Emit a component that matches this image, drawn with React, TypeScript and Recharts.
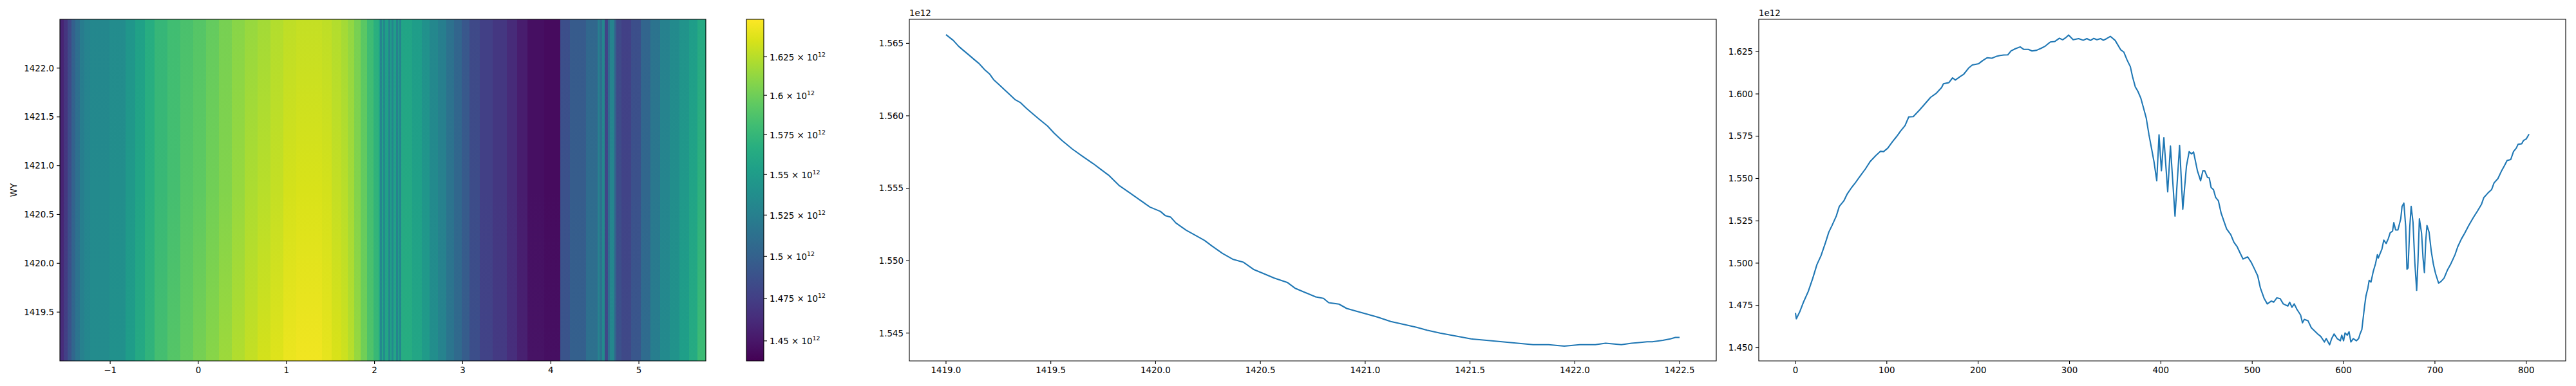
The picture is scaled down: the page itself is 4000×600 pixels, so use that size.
import { ComposedChart, Line, LineChart, ReferenceArea, XAxis, YAxis } from 'recharts';

const FONT = 'DejaVu Sans';
const FS = 13.4;
const BLUE = '#1f77b4';

// heatmap: column edges along x (radians) and values (x1e12) at top / middle / bottom of the WY range
const HEAT_EDGES = [
  -1.5708, -1.5296, -1.4857, -1.4418, -1.398, -1.3468, -1.2956, -1.2298, -1.0105, -0.8277,
  -0.718, -0.6083, -0.4986, -0.3524, -0.2061, -0.06, 0.0863, 0.2325, 0.3787, 0.525,
  0.6712, 0.8175, 0.9637, 1.1099, 1.2562, 1.4024, 1.5121, 1.6217, 1.6949, 1.768,
  1.8411, 1.9142, 1.9873, 2.0458, 2.0604, 2.0823, 2.0969, 2.1188, 2.1554, 2.1773,
  2.192, 2.2139, 2.2432, 2.2651, 2.2798, 2.3017, 2.426, 2.5357, 2.6234, 2.7185,
  2.8135, 2.9012, 2.989, 3.0767, 3.1937, 3.3399, 3.5008, 3.6178, 3.7348, 3.9249,
  4.1077, 4.2174, 4.4002, 4.5318, 4.5537, 4.5829, 4.6122, 4.6487, 4.6707, 4.7219,
  4.7438, 4.8023, 4.9119, 5.0216, 5.1313, 5.2409, 5.3506, 5.4603, 5.5699, 5.665,
  5.7596,
];
const HEAT_TOP = [
  1.458, 1.468, 1.482, 1.499, 1.511, 1.522, 1.528, 1.532, 1.536, 1.545,
  1.555, 1.566, 1.575, 1.581, 1.585, 1.59, 1.596, 1.603, 1.609, 1.614,
  1.618, 1.623, 1.627, 1.629, 1.629, 1.627, 1.623, 1.618, 1.612, 1.603,
  1.592, 1.579, 1.568, 1.555, 1.53, 1.555, 1.532, 1.553, 1.528, 1.551,
  1.53, 1.553, 1.526, 1.549, 1.528, 1.557, 1.551, 1.54, 1.532, 1.524,
  1.513, 1.503, 1.492, 1.482, 1.476, 1.47, 1.462, 1.454, 1.446, 1.444,
  1.486, 1.495, 1.505, 1.524, 1.511, 1.53, 1.478, 1.511, 1.528, 1.499,
  1.482, 1.476, 1.486, 1.503, 1.515, 1.526, 1.534, 1.542, 1.551, 1.562,
];
const HEAT_MID = [
  1.458, 1.47, 1.486, 1.501, 1.513, 1.524, 1.53, 1.534, 1.538, 1.547,
  1.557, 1.568, 1.577, 1.583, 1.59, 1.594, 1.601, 1.607, 1.614, 1.621,
  1.625, 1.629, 1.634, 1.636, 1.636, 1.634, 1.629, 1.625, 1.618, 1.607,
  1.596, 1.583, 1.572, 1.557, 1.532, 1.557, 1.534, 1.555, 1.53, 1.553,
  1.532, 1.555, 1.528, 1.551, 1.53, 1.562, 1.555, 1.545, 1.534, 1.526,
  1.515, 1.505, 1.495, 1.484, 1.476, 1.47, 1.462, 1.454, 1.446, 1.444,
  1.488, 1.497, 1.509, 1.526, 1.513, 1.532, 1.48, 1.513, 1.53, 1.501,
  1.484, 1.478, 1.488, 1.505, 1.519, 1.53, 1.538, 1.547, 1.557, 1.57,
];
const HEAT_BOT = [
  1.464, 1.476, 1.49, 1.505, 1.517, 1.526, 1.532, 1.536, 1.54, 1.551,
  1.562, 1.572, 1.583, 1.59, 1.596, 1.603, 1.609, 1.616, 1.623, 1.629,
  1.634, 1.638, 1.643, 1.645, 1.645, 1.641, 1.636, 1.632, 1.625, 1.614,
  1.601, 1.588, 1.577, 1.562, 1.534, 1.559, 1.536, 1.559, 1.532, 1.557,
  1.534, 1.559, 1.53, 1.555, 1.532, 1.566, 1.559, 1.549, 1.538, 1.528,
  1.517, 1.507, 1.497, 1.486, 1.478, 1.472, 1.464, 1.456, 1.448, 1.446,
  1.49, 1.499, 1.513, 1.528, 1.515, 1.534, 1.482, 1.515, 1.532, 1.503,
  1.488, 1.482, 1.492, 1.509, 1.524, 1.534, 1.542, 1.553, 1.564, 1.579,
];
const HEAT_X_TICKS = [-1, 0, 1, 2, 3, 4, 5];
const HEAT_Y_TICKS = [1419.5, 1420.0, 1420.5, 1421.0, 1421.5, 1422.0];

// colorbar (log norm)
const CB_MIN = 1.4384;
const CB_MAX = 1.6495;
const CB_TICKS = [1.45, 1.475, 1.5, 1.525, 1.55, 1.575, 1.6, 1.625];

// middle panel
const P2_X = [
  1419.0, 1419.035, 1419.06, 1419.084, 1419.109, 1419.133, 1419.158, 1419.183, 1419.207, 1419.227,
  1419.257, 1419.294, 1419.331, 1419.356, 1419.385, 1419.417, 1419.45, 1419.484, 1419.516, 1419.553,
  1419.603, 1419.652, 1419.702, 1419.739, 1419.776, 1419.825, 1419.875, 1419.924, 1419.973, 1420.023,
  1420.047, 1420.072, 1420.097, 1420.146, 1420.196, 1420.233, 1420.27, 1420.319, 1420.368, 1420.418,
  1420.467, 1420.517, 1420.566, 1420.628, 1420.665, 1420.714, 1420.764, 1420.801, 1420.826, 1420.875,
  1420.912, 1420.961, 1421.011, 1421.06, 1421.122, 1421.184, 1421.245, 1421.295, 1421.357, 1421.431,
  1421.505, 1421.579, 1421.653, 1421.727, 1421.801, 1421.875, 1421.95, 1422.024, 1422.098, 1422.147,
  1422.222, 1422.271, 1422.345, 1422.37, 1422.42, 1422.456, 1422.48, 1422.5,
];
const P2_Y = [
  1.5656, 1.5652, 1.5648, 1.5645, 1.5642, 1.5639, 1.5636, 1.5632, 1.5629, 1.5625,
  1.5621, 1.5616, 1.5611, 1.5609, 1.5605, 1.5601, 1.5597, 1.5593, 1.5588, 1.5583,
  1.5577, 1.5572, 1.5567, 1.5563, 1.5559, 1.5552, 1.5547, 1.5542, 1.5537, 1.5534,
  1.5531, 1.553, 1.5526, 1.5521, 1.5517, 1.5514, 1.551, 1.5505, 1.5501, 1.5499,
  1.5494, 1.5491, 1.5488, 1.5485, 1.5481, 1.5478, 1.5475, 1.5474, 1.5471, 1.547,
  1.5467, 1.5465, 1.5463, 1.5461, 1.5458, 1.5456, 1.5454, 1.5452, 1.545, 1.5448,
  1.5446, 1.5445, 1.5444, 1.5443, 1.5442, 1.5442, 1.5441, 1.5442, 1.5442, 1.5443,
  1.5442, 1.5443, 1.5444, 1.5444, 1.5445, 1.5446, 1.5447, 1.5447,
];
const P2_X_TICKS = [1419.0, 1419.5, 1420.0, 1420.5, 1421.0, 1421.5, 1422.0, 1422.5];
const P2_Y_TICKS = [1.545, 1.55, 1.555, 1.56, 1.565];

// right panel
const P3_X = [
  0, 1, 5, 9, 14, 19, 23.5, 28, 33, 36.5,
  40, 44.7, 48, 53, 56.5, 61, 66, 70.6, 76.5, 82,
  88, 93, 96.5, 101, 106, 110.6, 115, 120, 124, 129,
  136, 142, 148, 154, 160, 162, 168, 172, 175, 181,
  184, 190, 193.6, 200.7, 205, 210, 215, 219.5, 224, 228,
  232.5, 236, 240.7, 246, 250, 255, 259, 264, 269, 273.6,
  279, 284, 289, 292.5, 296, 299, 304, 310, 315, 319,
  323, 326.6, 330, 334, 337, 340.7, 344.7, 350, 356, 359.5,
  363, 366.6, 369, 372, 374.8, 378, 381, 384, 387, 390,
  392.5, 395.5, 398, 400.6, 403.3, 407.5, 410.5, 415.5, 420.5, 424,
  428, 431, 433.6, 435.8, 440, 443.5, 446, 448, 451, 453,
  455, 457.6, 460, 463, 466, 469.4, 472, 476.5, 480, 483.5,
  487, 490, 495, 499, 502, 506, 509, 513, 516.5, 521,
  523.5, 527, 530.6, 534, 539, 541, 543.5, 546, 549, 553,
  555, 557, 561, 564.7, 568, 571.8, 575, 579, 581, 584.7,
  587, 589.6, 593, 596.5, 598, 600, 601.6, 604, 606, 608,
  610.6, 614, 616.5, 618, 620, 622, 623, 624.5, 626.6, 628,
  630, 632.5, 635, 637, 638, 642, 644, 646.6, 649, 651,
  653.6, 655, 657, 659.5, 662.6, 664, 666, 668, 669.4, 670.6,
  672.5, 674, 676, 678, 680, 681.4, 683, 685.4, 687, 688.5,
  690, 691.3, 693.6, 696, 698.4, 700.7, 704, 706.6, 710, 713.6,
  717, 722, 725, 729, 732.5, 737, 742, 746.6, 751, 753.6,
  758, 762, 764.7, 769, 773, 776, 779, 783, 786, 789,
  791, 795, 797, 800, 803,
];
const P3_Y = [
  1.4706, 1.4671, 1.4716, 1.4772, 1.4832, 1.4911, 1.4991, 1.5044, 1.5123, 1.5183,
  1.5222, 1.5278, 1.5335, 1.5368, 1.5407, 1.5443, 1.5478, 1.5513, 1.5556, 1.5602,
  1.5636, 1.5661, 1.5659, 1.5679, 1.5716, 1.5747, 1.578, 1.5813, 1.5864, 1.5866,
  1.5906, 1.5943, 1.598, 1.6003, 1.6038, 1.606, 1.6067, 1.6095, 1.6082, 1.6105,
  1.6115, 1.6155, 1.6171, 1.6179, 1.6197, 1.6214, 1.6211, 1.6221, 1.6227, 1.623,
  1.6231, 1.6254, 1.6267, 1.6278, 1.6263, 1.6263, 1.6254, 1.6258, 1.627, 1.6283,
  1.6307, 1.631, 1.6329, 1.632, 1.6333, 1.6348, 1.632, 1.6327, 1.6317, 1.6327,
  1.6316, 1.6328, 1.632, 1.6327, 1.6317, 1.6327, 1.634, 1.6316, 1.6261, 1.6247,
  1.6201, 1.6161, 1.6102, 1.6042, 1.6016, 1.5976, 1.5917, 1.5857, 1.5758, 1.5672,
  1.5599, 1.5487, 1.5758, 1.5546, 1.5741, 1.5421, 1.5692, 1.5278, 1.5696, 1.5319,
  1.5573, 1.5659, 1.5645, 1.5657, 1.5546, 1.5487, 1.5546, 1.5546, 1.5507, 1.5504,
  1.5447, 1.5434, 1.5388, 1.5368, 1.5295, 1.5242, 1.5202, 1.5169, 1.5123, 1.5097,
  1.5057, 1.5024, 1.5037, 1.5004, 1.4971, 1.4925, 1.4852, 1.4792, 1.4759, 1.4776,
  1.4769, 1.4795, 1.479, 1.4759, 1.4746, 1.4769, 1.4739, 1.4759, 1.4726, 1.4693,
  1.4647, 1.4667, 1.466, 1.4618, 1.4601, 1.4581, 1.4567, 1.4534, 1.4554, 1.4517,
  1.4554, 1.4581, 1.4554, 1.4541, 1.4574, 1.4541, 1.4587, 1.4574, 1.4594, 1.4534,
  1.4554, 1.4541, 1.4554, 1.4581, 1.4607, 1.47, 1.4746, 1.4806, 1.4852, 1.4898,
  1.4888, 1.4951, 1.4997, 1.505, 1.503, 1.5083, 1.5136, 1.5116, 1.5145, 1.5179,
  1.5189, 1.5239, 1.5196, 1.5196, 1.5262, 1.5335, 1.5355, 1.5216, 1.4964, 1.4971,
  1.5216, 1.5335, 1.5242, 1.5004, 1.4839, 1.5004, 1.5262, 1.5176, 1.503, 1.4944,
  1.5136, 1.5222, 1.5183, 1.507, 1.4991, 1.4938, 1.4882, 1.4891, 1.4911, 1.4958,
  1.4991, 1.505, 1.5097, 1.5143, 1.5176, 1.5222, 1.5269, 1.5308, 1.5348, 1.5388,
  1.5414, 1.5434, 1.5474, 1.55, 1.5546, 1.5575, 1.5606, 1.5612, 1.5659, 1.5679,
  1.5702, 1.5705, 1.5725, 1.5734, 1.5762,
];
const P3_X_TICKS = [0, 100, 200, 300, 400, 500, 600, 700, 800];
const P3_Y_TICKS = [1.45, 1.475, 1.5, 1.525, 1.55, 1.575, 1.6, 1.625];

const VIRIDIS = [
  '#440154', '#48186a', '#472d7b', '#424086', '#3b528b', '#33638d', '#2c728e', '#26828e', '#21918c',
  '#1fa088', '#28ae80', '#3fbc73', '#5ec962', '#84d44b', '#addc30', '#d8e219', '#fde725',
];

function hexRgb(h: string) {
  return [parseInt(h.slice(1, 3), 16), parseInt(h.slice(3, 5), 16), parseInt(h.slice(5, 7), 16)];
}

function viridis(t: number) {
  const c = Math.max(0, Math.min(1, t)) * (VIRIDIS.length - 1);
  const i = Math.min(Math.floor(c), VIRIDIS.length - 2);
  const f = c - i;
  const a = hexRgb(VIRIDIS[i]);
  const b = hexRgb(VIRIDIS[i + 1]);
  const rgb = a.map((v, k) => Math.round(v + (b[k] - v) * f));
  return `rgb(${rgb[0]},${rgb[1]},${rgb[2]})`;
}

const logNorm = (v: number) => (Math.log(v) - Math.log(CB_MIN)) / (Math.log(CB_MAX) - Math.log(CB_MIN));

const heatCols = HEAT_TOP.map((top, i) => ({
  x1: HEAT_EDGES[i],
  x2: HEAT_EDGES[i + 1],
  top,
  mid: HEAT_MID[i],
  bot: HEAT_BOT[i],
}));
const p2Data = P2_X.map((x, i) => ({ x, y: P2_Y[i] }));
const p3Data = P3_X.map((x, i) => ({ x, y: P3_Y[i] }));

const tickStyle = { fill: '#000', fontSize: FS, fontFamily: FONT };
const tickLine = { stroke: '#000', strokeWidth: 1.1 };

const CrispRect = (p: any) => (
  <rect x={p.x} y={p.y} width={p.width} height={p.height} fill={p.fill} fillOpacity={1} stroke="none" shapeRendering="crispEdges" />
);

const offsetLabel = {
  content: (p: any) => {
    const vb = p.viewBox;
    return (
      <text x={vb.x + vb.width} y={vb.y - 5} fontSize={FS} fontFamily={FONT} fill="#000">
        1e12
      </text>
    );
  },
};

const wyLabel = {
  content: (p: any) => {
    const vb = p.viewBox;
    const cx = vb.x - 2;
    const cy = vb.y + vb.height / 2;
    return (
      <text x={cx} y={cy} transform={`rotate(-90 ${cx} ${cy})`} textAnchor="middle" dominantBaseline="central" fontSize={FS} fontFamily={FONT} fill="#000">
        WY
      </text>
    );
  },
};

const CbTick = (p: any) => (
  <text x={p.x} y={p.y} dy="0.42em" fill="#000" fontSize={FS} fontFamily={FONT} textAnchor="start">
    <tspan>{`${p.payload.value} \u00d7 10`}</tspan>
    <tspan dy={-6} fontSize={FS * 0.7}>12</tspan>
  </text>
);

const minus = (v: number) => (v < 0 ? `\u2212${Math.abs(v)}` : `${v}`);

function Frame({ x, y }: { x: [number, number]; y: [number, number] }) {
  return <ReferenceArea x1={x[0]} x2={x[1]} y1={y[0]} y2={y[1]} fill="none" stroke="#000" strokeWidth={1.1} ifOverflow="visible" />;
}

const HEAT_XD: [number, number] = [-1.5708, 5.7596];
const HEAT_YD: [number, number] = [1419, 1422.5];
const P2_XD: [number, number] = [1418.825, 1422.675];
const P2_YD: [number, number] = [1.54308, 1.56666];
const P3_XD: [number, number] = [-40.15, 843.15];
const P3_YD: [number, number] = [1.4422, 1.6441];

// colorbar stops in ascending offset order (top of bar = high end of the map)
const cbarStops = VIRIDIS.map((_, k) => ({
  offset: `${(k / (VIRIDIS.length - 1)) * 100}%`,
  color: VIRIDIS[VIRIDIS.length - 1 - k],
}));

export default function App() {
  return (
    <div style={{ position: 'absolute', left: 0, top: 0, width: 4000, height: 600, background: '#fff', fontFamily: FONT }}>
      <div style={{ position: 'absolute', left: 0, top: 0 }}>
        <ComposedChart width={1110} height={600} data={heatCols} margin={{ top: 30, right: 14, bottom: 9, left: 23 }}>
          <defs>
            {heatCols.map((c, i) => (
              <linearGradient key={i} id={`hm${i}`} x1="0" y1="0" x2="0" y2="1">
                <stop offset="0%" stopColor={viridis(logNorm(c.top))} />
                <stop offset="50%" stopColor={viridis(logNorm(c.mid))} />
                <stop offset="100%" stopColor={viridis(logNorm(c.bot))} />
              </linearGradient>
            ))}
          </defs>
          <XAxis type="number" dataKey="x1" domain={HEAT_XD} allowDataOverflow ticks={HEAT_X_TICKS} interval={0} tickFormatter={minus} height={30} tick={tickStyle} tickLine={tickLine} axisLine={false} tickSize={5} tickMargin={4} />
          <YAxis type="number" domain={HEAT_YD} allowDataOverflow ticks={HEAT_Y_TICKS} interval={0} tickFormatter={(v: number) => v.toFixed(1)} width={70} tick={tickStyle} tickLine={tickLine} axisLine={false} tickSize={5} tickMargin={4} label={wyLabel} />
          {heatCols.map((c, i) => (
            <ReferenceArea key={i} x1={c.x1} x2={c.x2} y1={HEAT_YD[0]} y2={HEAT_YD[1]} fill={`url(#hm${i})`} fillOpacity={1} stroke="none" shape={CrispRect} ifOverflow="visible" />
          ))}
          <Frame x={HEAT_XD} y={HEAT_YD} />
        </ComposedChart>
      </div>

      <div style={{ position: 'absolute', left: 1140, top: 0 }}>
        <ComposedChart width={180} height={600} data={[{ x: 0 }, { x: 1 }]} margin={{ top: 30, right: 4, bottom: 39, left: 19 }}>
          <defs>
            <linearGradient id="cbar" x1="0" y1="0" x2="0" y2="1">
              {cbarStops.map((s, k) => (
                <stop key={k} offset={s.offset} stopColor={s.color} />
              ))}
            </linearGradient>
          </defs>
          <XAxis type="number" dataKey="x" domain={[0, 1]} hide />
          <YAxis orientation="right" type="number" scale="log" domain={[CB_MIN, CB_MAX]} allowDataOverflow ticks={CB_TICKS} interval={0} width={130} tick={<CbTick />} tickLine={tickLine} axisLine={false} tickSize={5} tickMargin={4} />
          <ReferenceArea x1={0} x2={1} y1={CB_MIN} y2={CB_MAX} fill="url(#cbar)" fillOpacity={1} stroke="none" ifOverflow="visible" />
          <Frame x={[0, 1]} y={[CB_MIN, CB_MAX]} />
        </ComposedChart>
      </div>

      <div style={{ position: 'absolute', left: 1300, top: 0 }}>
        <LineChart width={1380} height={600} data={p2Data} margin={{ top: 30, right: 15, bottom: 9, left: 42 }}>
          <XAxis type="number" dataKey="x" domain={P2_XD} allowDataOverflow ticks={P2_X_TICKS} interval={0} tickFormatter={(v: number) => v.toFixed(1)} height={30} tick={tickStyle} tickLine={tickLine} axisLine={false} tickSize={5} tickMargin={4} />
          <YAxis type="number" domain={P2_YD} allowDataOverflow ticks={P2_Y_TICKS} interval={0} tickFormatter={(v: number) => v.toFixed(3)} width={70} tick={tickStyle} tickLine={tickLine} axisLine={false} tickSize={5} tickMargin={4} label={offsetLabel} />
          <Line type="linear" dataKey="y" stroke={BLUE} strokeWidth={2.08} dot={false} isAnimationActive={false} strokeLinejoin="round" />
          <Frame x={P2_XD} y={P2_YD} />
        </LineChart>
      </div>

      <div style={{ position: 'absolute', left: 2670, top: 0 }}>
        <LineChart width={1330} height={600} data={p3Data} margin={{ top: 30, right: 16, bottom: 9, left: 6 }}>
          <XAxis type="number" dataKey="x" domain={P3_XD} allowDataOverflow ticks={P3_X_TICKS} interval={0} height={30} tick={tickStyle} tickLine={tickLine} axisLine={false} tickSize={5} tickMargin={4} />
          <YAxis type="number" domain={P3_YD} allowDataOverflow ticks={P3_Y_TICKS} interval={0} tickFormatter={(v: number) => v.toFixed(3)} width={55} tick={tickStyle} tickLine={tickLine} axisLine={false} tickSize={5} tickMargin={4} label={offsetLabel} />
          <Line type="linear" dataKey="y" stroke={BLUE} strokeWidth={2.08} dot={false} isAnimationActive={false} strokeLinejoin="round" />
          <Frame x={P3_XD} y={P3_YD} />
        </LineChart>
      </div>
    </div>
  );
}
